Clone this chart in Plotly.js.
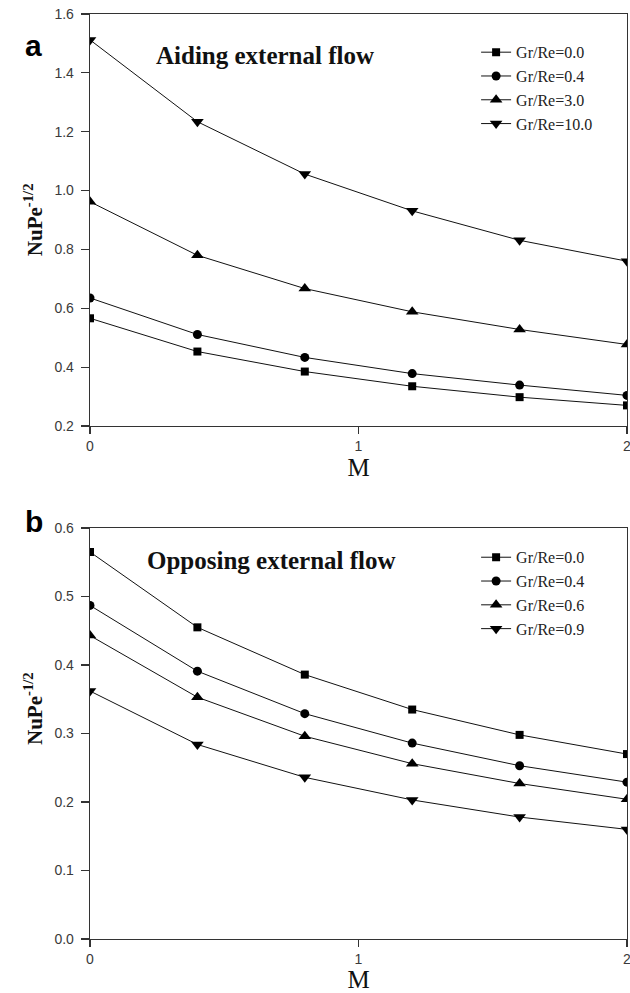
<!DOCTYPE html>
<html>
<head>
<meta charset="utf-8">
<script src="https://cdn.plot.ly/plotly-3.0.1.min.js"></script>
<style>
  html, body { margin: 0; padding: 0; background: #ffffff; }
  #chart { width: 630px; height: 993px; }
</style>
</head>
<body>
<div id="chart"></div>
<script>
// Magnetic parameter M along the plate
const M = [0, 0.4, 0.8, 1.2, 1.6, 2.0];

// (a) Aiding external flow: NuPe^-1/2 for each Gr/Re
const aidingLabels = ['Gr/Re=0.0', 'Gr/Re=0.4', 'Gr/Re=3.0', 'Gr/Re=10.0'];
const aidGr00 = [0.566, 0.453, 0.385, 0.335, 0.298, 0.270];
const aidGr04 = [0.635, 0.511, 0.433, 0.378, 0.339, 0.304];
const aidGr30 = [0.962, 0.780, 0.667, 0.588, 0.528, 0.477];
const aidGr100 = [1.512, 1.234, 1.056, 0.931, 0.831, 0.760];

// (b) Opposing external flow
const opposingLabels = ['Gr/Re=0.0', 'Gr/Re=0.4', 'Gr/Re=0.6', 'Gr/Re=0.9'];
const oppGr00 = [0.565, 0.455, 0.386, 0.335, 0.298, 0.270];
const oppGr04 = [0.487, 0.391, 0.329, 0.286, 0.253, 0.229];
const oppGr06 = [0.443, 0.353, 0.296, 0.256, 0.227, 0.204];
const oppGr09 = [0.362, 0.284, 0.236, 0.203, 0.178, 0.160];

const symbols = ['square', 'circle', 'triangle-up', 'triangle-down'];
const symbolSizes = [8, 9, 11, 11];

function series(x, y, name, i, xa, ya, leg) {
  return {
    x: x, y: y, name: name, type: 'scatter', mode: 'lines+markers',
    xaxis: xa, yaxis: ya, legend: leg,
    line: { color: '#111', width: 1 },
    marker: { symbol: symbols[i], size: symbolSizes[i], color: '#000' }
  };
}

const aidSets = [aidGr00, aidGr04, aidGr30, aidGr100];
const oppSets = [oppGr00, oppGr04, oppGr06, oppGr09];
const traces = [];
aidSets.forEach((ys, i) => traces.push(series(M, ys, aidingLabels[i], i, 'x', 'y', 'legend')));
oppSets.forEach((ys, i) => traces.push(series(M, ys, opposingLabels[i], i, 'x2', 'y2', 'legend2')));

const serif = 'Liberation Serif, Times New Roman, serif';
const sans = 'Liberation Sans, Arial, sans-serif';
const tickFont = { family: sans, size: 14, color: '#3a3a3a' };
const titleFontX = { family: serif, size: 25, color: '#111' };
const yTitleFont = { family: serif, size: 21, color: '#111', weight: 'bold' };
const noteFont = { family: serif, size: 25, color: '#111', weight: 'bold' };
const panelFont = { family: sans, size: 30, color: '#000', weight: 'bold' };

function xAxis(anchor) {
  return {
    domain: [0, 1], anchor: anchor, range: [0, 2],
    tickvals: [0, 1, 2], ticktext: ['0', '1', '2'],
    ticks: 'outside', ticklen: 7, tickcolor: '#333', tickwidth: 1.2,
    ticklabeloverflow: 'allow',
    showline: true, linecolor: '#333', linewidth: 1.3, mirror: true,
    showgrid: false, zeroline: false, tickfont: tickFont,
    title: { text: 'M', font: titleFontX, standoff: 2 }
  };
}
function yAxis(domain, range, dtick, anchor) {
  return {
    domain: domain, anchor: anchor, range: range, dtick: dtick, tick0: 0,
    tickformat: '.1f',
    ticks: 'outside', ticklen: 8, tickcolor: '#333', tickwidth: 1.2,
    ticklabelstandoff: 4,
    showline: true, linecolor: '#333', linewidth: 1.3, mirror: true,
    showgrid: false, zeroline: false, tickfont: tickFont
  };
}

const legendStyle = (y) => ({
  x: 0.719, y: y, xanchor: 'left', yanchor: 'top',
  bgcolor: 'rgba(0,0,0,0)', borderwidth: 0,
  font: { family: serif, size: 16, color: '#222' },
  tracegroupgap: 0, itemwidth: 30
});

const layout = {
  width: 630, height: 993,
  margin: { l: 90, r: 3, t: 14, b: 54 },
  paper_bgcolor: '#ffffff', plot_bgcolor: '#ffffff',
  showlegend: true,
  xaxis: xAxis('y'),
  yaxis: yAxis([0.5546, 1], [0.2, 1.6], 0.2, 'x'),
  xaxis2: xAxis('y2'),
  yaxis2: yAxis([0, 0.4443], [0, 0.6], 0.1, 'x2'),
  legend: legendStyle(0.977),
  legend2: legendStyle(0.431),
  annotations: [
    { text: 'Aiding external flow', xref: 'x', yref: 'y', x: 0.238, y: 1.46,
      xanchor: 'left', yanchor: 'middle', showarrow: false, font: noteFont },
    { text: 'Opposing external flow', xref: 'x2', yref: 'y2', x: 0.205, y: 0.553,
      xanchor: 'left', yanchor: 'middle', showarrow: false, font: noteFont },
    { text: 'NuPe<sup>-1/2</sup>', xref: 'x domain', yref: 'y domain', x: -0.104, y: 0.5,
      xanchor: 'center', yanchor: 'middle', textangle: -90, showarrow: false, font: yTitleFont },
    { text: 'NuPe<sup>-1/2</sup>', xref: 'x2 domain', yref: 'y2 domain', x: -0.104, y: 0.56,
      xanchor: 'center', yanchor: 'middle', textangle: -90, showarrow: false, font: yTitleFont },
    { text: 'a', xref: 'paper', yref: 'paper', x: -0.105, y: 0.966, xanchor: 'center', yanchor: 'middle',
      showarrow: false, font: panelFont },
    { text: 'b', xref: 'paper', yref: 'paper', x: -0.105, y: 0.451, xanchor: 'center', yanchor: 'middle',
      showarrow: false, font: panelFont }
  ]
};

Plotly.newPlot('chart', traces, layout, { displayModeBar: false, staticPlot: true });
</script>
</body>
</html>
